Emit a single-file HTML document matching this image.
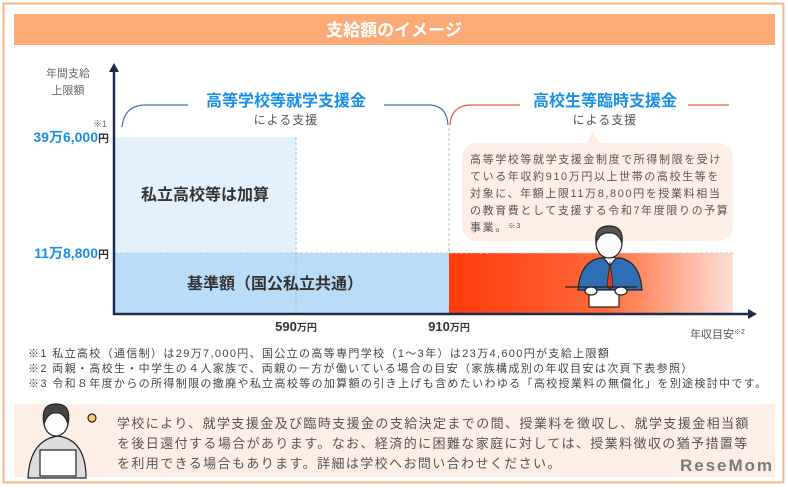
<!DOCTYPE html>
<html><head><meta charset="utf-8"><style>
body{margin:0;width:788px;height:487px;background:#fff;overflow:hidden;font-family:"Liberation Sans","Noto Sans CJK JP",sans-serif;}
svg text{font-family:"Liberation Sans","Noto Sans CJK JP",sans-serif;}
</style></head><body>
<svg width="788" height="487" viewBox="0 0 788 487" xmlns="http://www.w3.org/2000/svg">
<defs>
<linearGradient id="rg" x1="0" x2="1" y1="0" y2="0">
<stop offset="0" stop-color="#ff3a0a"/><stop offset="0.55" stop-color="#ff6a3a"/><stop offset="1" stop-color="#fde0d6"/>
</linearGradient>
</defs>
<rect x="3.5" y="3.5" width="780" height="479" fill="#fff" stroke="#fbb583" stroke-width="2"/>
<rect x="14" y="14" width="761" height="31" fill="#fcab76"/>
<text x="394" y="36" text-anchor="middle" font-size="17" font-weight="bold" fill="#fff">支給額のイメージ</text>
<rect x="115" y="137" width="181" height="116" fill="#e3f1fd"/>
<rect x="115" y="253" width="334" height="60" fill="#b9dcf9"/>
<rect x="449" y="253" width="284" height="60" fill="url(#rg)"/>
<line x1="115" y1="253" x2="733" y2="253" stroke="#ccc" stroke-dasharray="3,2"/>
<line x1="296" y1="137" x2="296" y2="313" stroke="#bbb" stroke-dasharray="3,2"/>
<line x1="449" y1="128" x2="449" y2="253" stroke="#bbb" stroke-dasharray="3,2"/>
<line x1="114" y1="70" x2="114" y2="315" stroke="#1d2b4f" stroke-width="2.5"/>
<polygon points="114,63 109,72 119,72" fill="#1d2b4f"/>
<line x1="113" y1="314" x2="750" y2="314" stroke="#1d2b4f" stroke-width="2.5"/>
<polygon points="757,314 748,309 748,319" fill="#1d2b4f"/>
<text x="68" y="77" text-anchor="middle" font-size="11" fill="#666">年間支給</text>
<text x="68" y="94" text-anchor="middle" font-size="11" fill="#666">上限額</text>
<text x="107" y="127" text-anchor="end" font-size="9" fill="#666">※1</text>
<text x="109" y="142" text-anchor="end" font-size="14" font-weight="bold" fill="#1a8fe8">39万6,000<tspan fill="#333" font-size="11">円</tspan></text>
<text x="109" y="258" text-anchor="end" font-size="14" font-weight="bold" fill="#1a8fe8">11万8,800<tspan fill="#333" font-size="11">円</tspan></text>
<path d="M122,127 Q124,106 144,105 L188,105 M384,105 L430,105 Q447,106 448,125" fill="none" stroke="#4a6fb5" stroke-width="1.2"/>
<path d="M450,125 Q451,106 470,105 L520,105 M688,105 L729,105" fill="none" stroke="#ef5a3c" stroke-width="1.2"/>
<text x="286" y="106" text-anchor="middle" font-size="16" font-weight="bold" fill="#1a8fe8">高等学校等就学支援金</text>
<text x="286" y="124" text-anchor="middle" font-size="12" fill="#555" letter-spacing="1">による支援</text>
<text x="605" y="106" text-anchor="middle" font-size="16" font-weight="bold" fill="#1a8fe8">高校生等臨時支援金</text>
<text x="605" y="124" text-anchor="middle" font-size="12" fill="#555" letter-spacing="1">による支援</text>
<polygon points="592,132 586,145 602,145" fill="#fdeee6"/>
<rect x="462" y="143" width="271" height="98" rx="15" fill="#fdeee6"/>
<g font-size="11" fill="#555" letter-spacing="1.6">
<text x="470" y="163">高等学校等就学支援金制度で所得制限を受け</text>
<text x="470" y="180">ている年収約910万円以上世帯の高校生等を</text>
<text x="470" y="197">対象に、年額上限11万8,800円を授業料相当</text>
<text x="470" y="214">の教育費として支援する令和7年度限りの予算</text>
<text x="470" y="231">事業。<tspan font-size="7" dy="-3">※3</tspan></text>
</g>
<text x="205" y="200" text-anchor="middle" font-size="16" font-weight="bold" fill="#333">私立高校等は加算</text>
<text x="275" y="289" text-anchor="middle" font-size="16" font-weight="bold" fill="#333">基準額（国公私立共通）</text>
<g stroke="#222" stroke-width="1.2">
<path d="M578,290 Q580,262 600,258 L620,258 Q640,262 642,290 Z" fill="#2f6eb5"/>
<path d="M604,258 L610,266 L616,258" fill="#fff"/>
<path d="M610,262 L607,285 L610,290 L613,285 Z" fill="#d93a2a" stroke-width="0.8"/>
<ellipse cx="609" cy="243" rx="13" ry="15" fill="#fff"/>
<path d="M596,243 Q594,226 609,226 Q624,226 622,243 Q618,232 609,233 Q600,232 596,243Z" fill="#555"/>
<line x1="565" y1="287" x2="637" y2="287" stroke="#222"/>
<rect x="589" y="290" width="30" height="17" fill="#fff"/>
<ellipse cx="591" cy="291" rx="6" ry="4" fill="#fff"/>
<ellipse cx="621" cy="291" rx="6" ry="4" fill="#fff"/>
</g>
<text x="296" y="331" text-anchor="middle" font-size="13" font-weight="bold" fill="#333">590<tspan font-size="10">万円</tspan></text>
<text x="449" y="331" text-anchor="middle" font-size="13" font-weight="bold" fill="#333">910<tspan font-size="10">万円</tspan></text>
<text x="690" y="338" font-size="11" fill="#555">年収目安<tspan font-size="7" dy="-4">※2</tspan></text>
<g font-size="11" fill="#444" letter-spacing="1.35">
<text x="28" y="357">※1 私立高校（通信制）は29万7,000円、国公立の高等専門学校（1〜3年）は23万4,600円が支給上限額</text>
<text x="28" y="372">※2 両親・高校生・中学生の４人家族で、両親の一方が働いている場合の目安（家族構成別の年収目安は次頁下表参照）</text>
<text x="28" y="387">※3 令和８年度からの所得制限の撤廃や私立高校等の加算額の引き上げも含めたいわゆる「高校授業料の無償化」を別途検討中です。</text>
</g>
<rect x="14" y="404" width="761" height="73" fill="#fdeee6"/>
<g font-size="13" fill="#555" letter-spacing="1.4">
<text x="117" y="428">学校により、就学支援金及び臨時支援金の支給決定までの間、授業料を徴収し、就学支援金相当額</text>
<text x="117" y="448">を後日還付する場合があります。なお、経済的に困難な家庭に対しては、授業料徴収の猶予措置等</text>
<text x="117" y="468">を利用できる場合もあります。詳細は学校へお問い合わせください。</text>
</g>
<g stroke="#222" stroke-width="1.2">
<path d="M28,478 Q30,440 58,436 Q86,440 86,478Z" fill="#ddd"/>
<ellipse cx="56" cy="422" rx="12" ry="14" fill="#fff"/>
<path d="M44,424 Q40,404 56,404 Q72,404 68,424 Q64,412 56,413 Q48,412 44,424Z" fill="#444"/>
<rect x="40" y="450" width="36" height="26" fill="#fff"/>
<circle cx="92" cy="418" r="4" fill="#f5d35a"/>
</g>
<text x="680" y="471" font-size="17" font-weight="bold" fill="#7a7a7a" textLength="92">ReseMom</text>
</svg>
</body></html>
